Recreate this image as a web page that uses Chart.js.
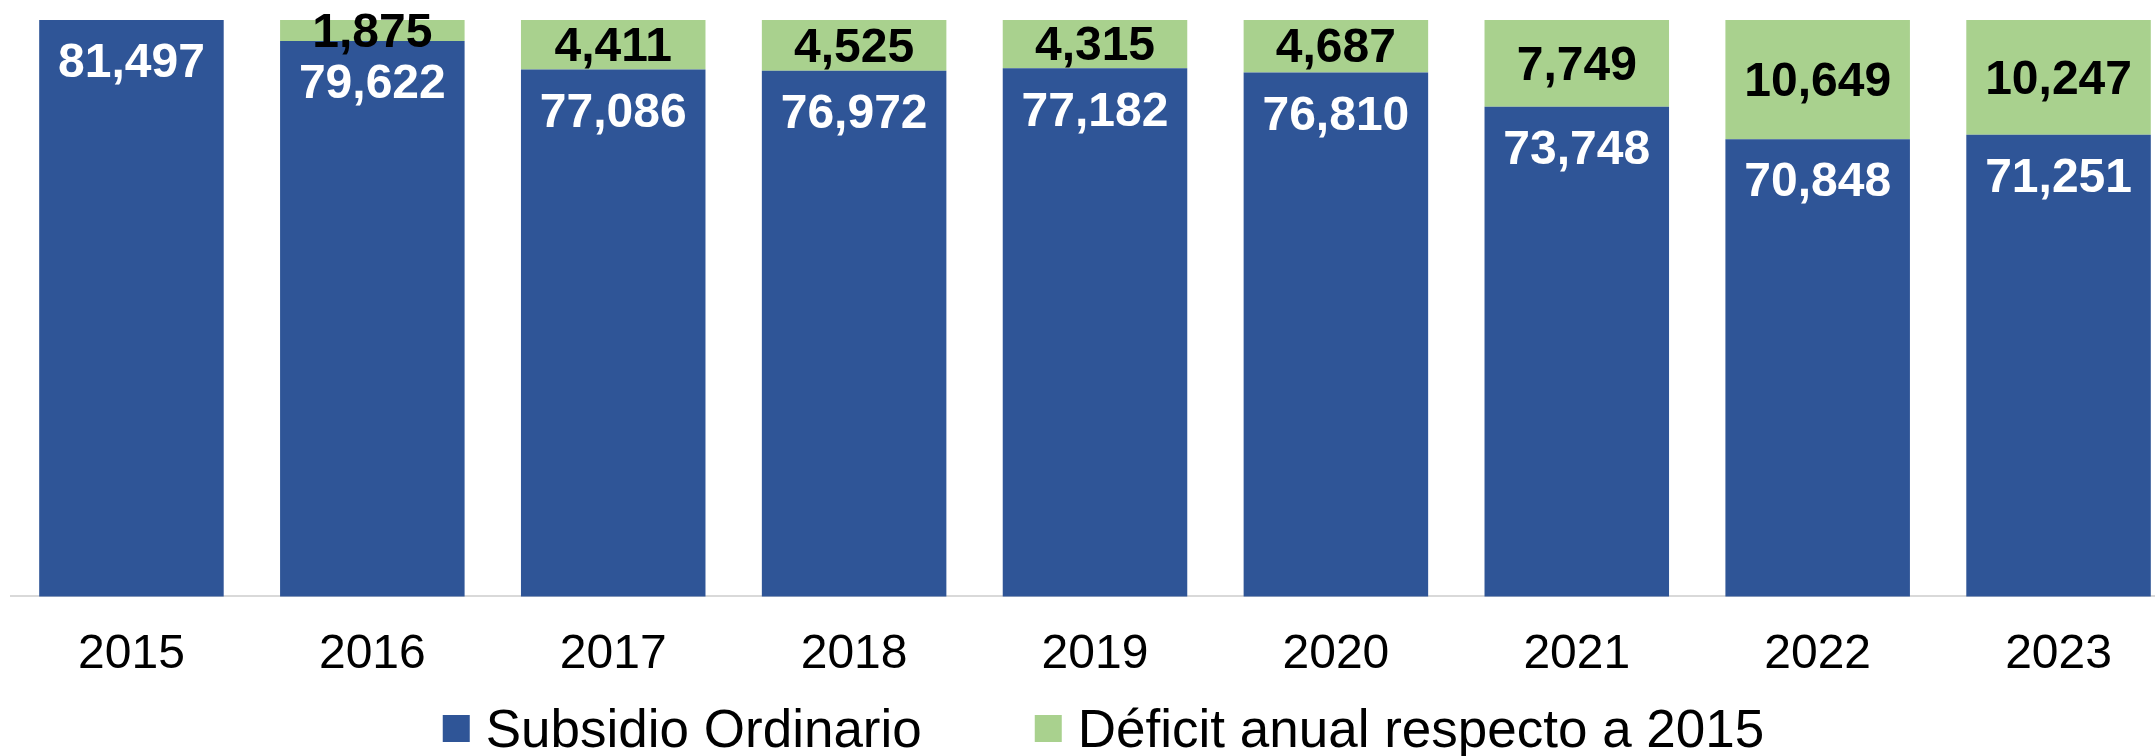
<!DOCTYPE html>
<html>
<head>
<meta charset="utf-8">
<script src="https://cdn.jsdelivr.net/npm/chart.js@4.4.1/dist/chart.umd.min.js"></script>
<style>
  html, body { margin: 0; padding: 0; background: #ffffff; overflow: hidden; }
  #wrap { position: relative; width: 2190px; height: 756px; }
</style>
</head>
<body>
<div id="wrap"><canvas id="c" width="2190" height="756"></canvas></div>
<script>
const categories = ['2015', '2016', '2017', '2018', '2019', '2020', '2021', '2022', '2023'];
const subsidioOrdinario = [81497, 79622, 77086, 76972, 77182, 76810, 73748, 70848, 71251];
const deficitAnual = [0, 1875, 4411, 4525, 4315, 4687, 7749, 10649, 10247];
const seriesNames = ['Subsidio Ordinario', 'Déficit anual respecto a 2015'];
const seriesColors = ['#2F5597', '#A9D18E'];
const yMin = 30000;

const fmt = v => v.toLocaleString('en-US');

const valueLabels = {
  id: 'valueLabels',
  afterDatasetsDraw(chart) {
    const ctx = chart.ctx;
    ctx.save();
    ctx.font = 'bold 48px "Liberation Sans", Arial, sans-serif';
    ctx.textAlign = 'center';
    ctx.textBaseline = 'middle';
    chart.data.datasets.forEach((ds, di) => {
      const meta = chart.getDatasetMeta(di);
      meta.data.forEach((el, i) => {
        const v = ds.data[i];
        if (!v) return;
        if (di === 0) {
          ctx.fillStyle = '#ffffff';
          ctx.fillText(fmt(v), el.x, el.y + 44);
        } else {
          ctx.fillStyle = '#000000';
          ctx.fillText(fmt(v), el.x, (el.y + el.base) / 2 + 3);
        }
      });
    });
    ctx.restore();
  }
};

const customLegend = {
  id: 'customLegend',
  afterDraw(chart) {
    const ctx = chart.ctx;
    ctx.save();
    ctx.font = '53px "Liberation Sans", Arial, sans-serif';
    ctx.textBaseline = 'alphabetic';
    ctx.textAlign = 'left';
    const box = 27, gap = 16, itemGap = 113;
    const items = chart.data.datasets.map(ds => ({ text: ds.label, color: ds.backgroundColor, w: ctx.measureText(ds.label).width }));
    let total = 0;
    items.forEach((it, k) => { total += box + gap + it.w + (k ? itemGap : 0); });
    const center = 1103.5;
    let x = center - total / 2;
    const baseline = 747;
    items.forEach((it, k) => {
      if (k) x += itemGap;
      ctx.fillStyle = it.color;
      ctx.fillRect(x, 715, box, box);
      x += box + gap;
      ctx.fillStyle = '#000000';
      ctx.fillText(it.text, x, baseline);
      x += it.w;
    });
    ctx.restore();
  }
};

new Chart(document.getElementById('c'), {
  type: 'bar',
  data: {
    labels: categories,
    datasets: [
      { label: seriesNames[0], data: subsidioOrdinario, backgroundColor: seriesColors[0], borderWidth: 0 },
      { label: seriesNames[1], data: deficitAnual, backgroundColor: seriesColors[1], borderWidth: 0 }
    ]
  },
  options: {
    responsive: false,
    animation: false,
    devicePixelRatio: 1,
    layout: { padding: { left: 11, right: 11, top: 20, bottom: 42 } },
    datasets: { bar: { categoryPercentage: 1.0, barPercentage: 0.766 } },
    plugins: { legend: { display: false }, tooltip: { enabled: false } },
    scales: {
      x: {
        stacked: true,
        grid: { display: false, drawTicks: false },
        border: { display: true, color: '#D9D9D9', width: 2 },
        ticks: { color: '#000000', padding: 30, font: { family: '"Liberation Sans", Arial, sans-serif', size: 48 } }
      },
      y: {
        stacked: true,
        display: false,
        min: yMin,
        max: Math.max(...subsidioOrdinario.map((v, i) => v + deficitAnual[i]))
      }
    }
  },
  plugins: [valueLabels, customLegend]
});
</script>
</body>
</html>
